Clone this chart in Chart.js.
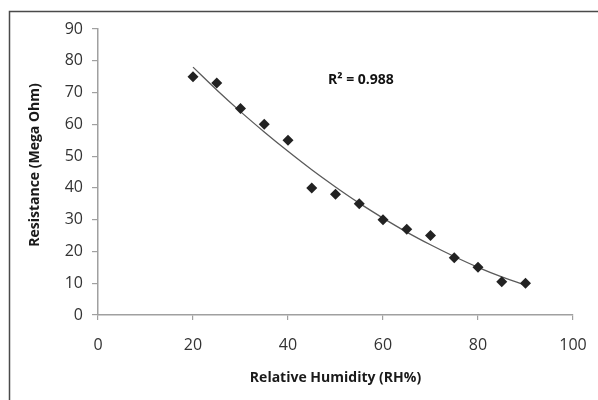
<!DOCTYPE html>
<html>
<head>
<meta charset="utf-8">
<script src="https://cdn.jsdelivr.net/npm/chart.js@4/dist/chart.umd.min.js"></script>
<style>
  html, body { margin: 0; padding: 0; background: #ffffff; }
  #wrap { position: relative; width: 598px; height: 400px; }
</style>
</head>
<body>
<div id="wrap"><canvas id="rh-chart" width="598" height="400"></canvas></div>
<script>
// Measured points
const humidity = [20, 25, 30, 35, 40, 45, 50, 55, 60, 65, 70, 75, 80, 85, 90];
const resistance = [75, 73, 65, 60, 55, 40, 38, 35, 30, 27, 25, 18, 15, 10.5, 10];

// Polynomial trendline
const trendX = [20, 25, 30, 35, 40, 45, 50, 55, 60, 65, 70, 75, 80, 85, 90];
const trendY = [78, 70.8, 64, 57.6, 51.5, 45.7, 40.3, 35.2, 30.5, 26.1, 22.1, 18.4, 15, 12, 9.4];

const xTicks = [0, 20, 40, 60, 80, 100];
const yTicks = [0, 10, 20, 30, 40, 50, 60, 70, 80, 90];

const rSquaredLabel = "R\u00B2 = 0.988";
const yTitle = "Resistance (Mega Ohm)";

const axisColor = "#a0a0a0";
const fontFamily = "'Open Sans', sans-serif";

// Frame around the chart, the y title and the R² note
const extrasPlugin = {
  id: "extras",
  beforeDraw(chart) {
    const c = chart.ctx;
    c.save();
    c.strokeStyle = "#4a4a4a";
    c.lineWidth = 1.5;
    c.beginPath();
    c.moveTo(9.5, 400);
    c.lineTo(9.5, 11.5);
    c.lineTo(598, 11.5);
    c.stroke();
    c.restore();
  },
  afterDraw(chart) {
    const c = chart.ctx;
    c.save();
    c.fillStyle = "#111111";
    c.font = "bold 14px " + fontFamily;
    c.textAlign = "left";
    c.textBaseline = "middle";
    c.fillText(rSquaredLabel, 328, 80);

    // y title sits a bit above the plot centre, as in the original
    c.fillStyle = "#1a1a1a";
    c.translate(35, 165);
    c.rotate(-Math.PI / 2);
    c.textAlign = "center";
    c.fillText(yTitle, 0, 0);
    c.restore();
  }
};

const ctx = document.getElementById("rh-chart");

new Chart(ctx, {
  type: "scatter",
  data: {
    datasets: [
      {
        label: "Resistance",
        data: humidity.map((x, i) => ({ x: x, y: resistance[i] })),
        pointStyle: "rectRot",
        pointRadius: 5.5,
        pointHoverRadius: 5.5,
        backgroundColor: "#222222",
        borderColor: "#222222",
        borderWidth: 0,
        showLine: false
      },
      {
        label: "Trend",
        data: trendX.map((x, i) => ({ x: x, y: trendY[i] })),
        showLine: true,
        pointRadius: 0,
        borderColor: "#5a5a5a",
        borderWidth: 1.3,
        tension: 0.4,
        fill: false
      }
    ]
  },
  plugins: [extrasPlugin],
  options: {
    responsive: false,
    animation: false,
    layout: {
      padding: { left: 0, right: 25, top: 29, bottom: 0 }
    },
    plugins: {
      legend: { display: false },
      tooltip: { enabled: false }
    },
    scales: {
      x: {
        type: "linear",
        min: 0,
        max: 100,
        afterBuildTicks: (scale) => { scale.ticks = xTicks.map((v) => ({ value: v })); },
        afterFit: (scale) => {
          scale.height = 85;
          scale.paddingLeft = 0;
          scale.paddingRight = 0;
        },
        border: { display: true, color: axisColor, width: 1.5 },
        grid: { drawOnChartArea: false, drawTicks: true, tickLength: 5, color: axisColor, lineWidth: 1.2 },
        ticks: {
          color: "#333333",
          font: { family: fontFamily, size: 16 },
          padding: 16,
          maxRotation: 0
        },
        title: {
          display: true,
          text: "Relative Humidity (RH%)",
          color: "#1a1a1a",
          font: { family: fontFamily, size: 14, weight: "bold" },
          padding: { top: 0, bottom: 14 }
        }
      },
      y: {
        type: "linear",
        min: 0,
        max: 90,
        afterBuildTicks: (scale) => { scale.ticks = yTicks.map((v) => ({ value: v })); },
        afterFit: (scale) => {
          scale.width = 98;
          scale.paddingTop = 0;
          scale.paddingBottom = 0;
        },
        border: { display: true, color: axisColor, width: 1.5 },
        grid: { drawOnChartArea: false, drawTicks: true, tickLength: 6, color: axisColor, lineWidth: 1.2 },
        ticks: {
          color: "#333333",
          font: { family: fontFamily, size: 16 },
          padding: 9
        }
      }
    }
  }
});
</script>
</body>
</html>
